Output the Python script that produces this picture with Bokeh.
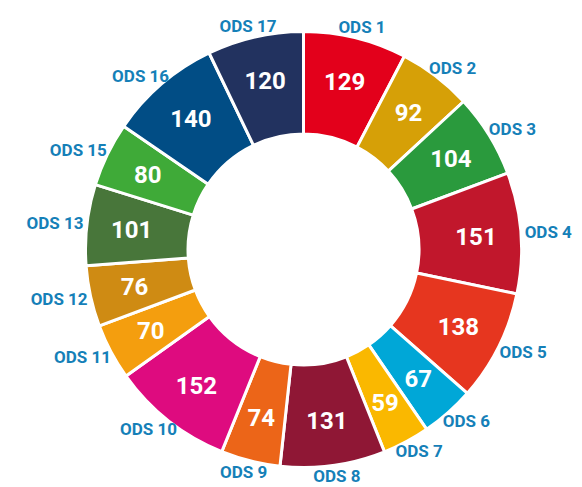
import math
from bokeh.plotting import figure
from bokeh.models import ColumnDataSource
from bokeh.core.properties import value
from bokeh.embed import file_html
from bokeh.resources import INLINE

# ---- data ----
goals = ["ODS 1", "ODS 2", "ODS 3", "ODS 4", "ODS 5", "ODS 6", "ODS 7", "ODS 8",
         "ODS 9", "ODS 10", "ODS 11", "ODS 12", "ODS 13", "ODS 15", "ODS 16", "ODS 17"]
counts = [129, 92, 104, 151, 138, 67, 59, 131, 74, 152, 70, 76, 101, 80, 140, 120]
colors = ["#E3001B", "#D6A007", "#2A9A3D", "#C1172C", "#E6361F", "#00A7D7", "#FAB800", "#8F1735",
          "#EC6518", "#DE0B7F", "#F49E0E", "#CF8B13", "#48763A", "#3FAA38", "#014D85", "#22325F"]

# ---- layout ----
W, H = 582, 487
CX, CY = 303, 249           # centre of the ring in figure pixels (from top-left)
R_IN, R_OUT = 117, 216.5
GAP = 3
R_VAL = 173
R_LBL = 222
LBL_FS = 17
VAL_FS = 24
LBL_COLOR = "#1580B8"

total = sum(counts)
starts, ends, mids = [], [], []
acc = 0
for c in counts:
    a0 = acc / total * 2 * math.pi
    acc += c
    a1 = acc / total * 2 * math.pi
    starts.append(math.pi / 2 - a0)
    ends.append(math.pi / 2 - a1)
    mids.append((a0 + a1) / 2)

src = ColumnDataSource(dict(start=starts, end=ends, color=colors))

vx = [R_VAL * math.sin(t) for t in mids]
vy = [R_VAL * math.cos(t) for t in mids]
vsrc = ColumnDataSource(dict(x=vx, y=vy, text=[str(c) for c in counts]))

lx = [R_LBL * math.sin(t) for t in mids]
ly = [R_LBL * math.cos(t) for t in mids]
widths = [LBL_FS * (2.2 + 0.56 * (len(g) - 4)) for g in goals]
xoff = [w / 2 * math.sin(t) for w, t in zip(widths, mids)]
yoff = [-(7) * math.cos(t) for t in mids]
lsrc = ColumnDataSource(dict(x=lx, y=ly, text=goals, xo=xoff, yo=yoff))

p = figure(width=W, height=H, output_backend="svg", toolbar_location=None,
           x_range=(-CX, W - CX), y_range=(-(H - CY), CY), min_border=0)
p.axis.visible = False
p.grid.visible = False
p.outline_line_color = None
p.background_fill_color = "white"
p.border_fill_color = "white"

p.annular_wedge(x=0, y=0, inner_radius=R_IN - GAP / 2, outer_radius=R_OUT + GAP / 2,
                start_angle="start", end_angle="end", direction="clock",
                fill_color="color", line_color="white", line_width=GAP, source=src)

p.text(x="x", y="y", text="text", source=vsrc, text_color="white",
       text_font=value("Roboto"), text_font_style="bold", text_font_size=f"{VAL_FS}px",
       text_align="center", text_baseline="middle")

p.text(x="x", y="y", text="text", source=lsrc, x_offset="xo", y_offset="yo",
       text_color=LBL_COLOR, text_font=value("Roboto"), text_font_style="bold",
       text_font_size=f"{LBL_FS}px", text_align="center", text_baseline="middle")

open("out.html", "w").write(file_html(p, INLINE))
